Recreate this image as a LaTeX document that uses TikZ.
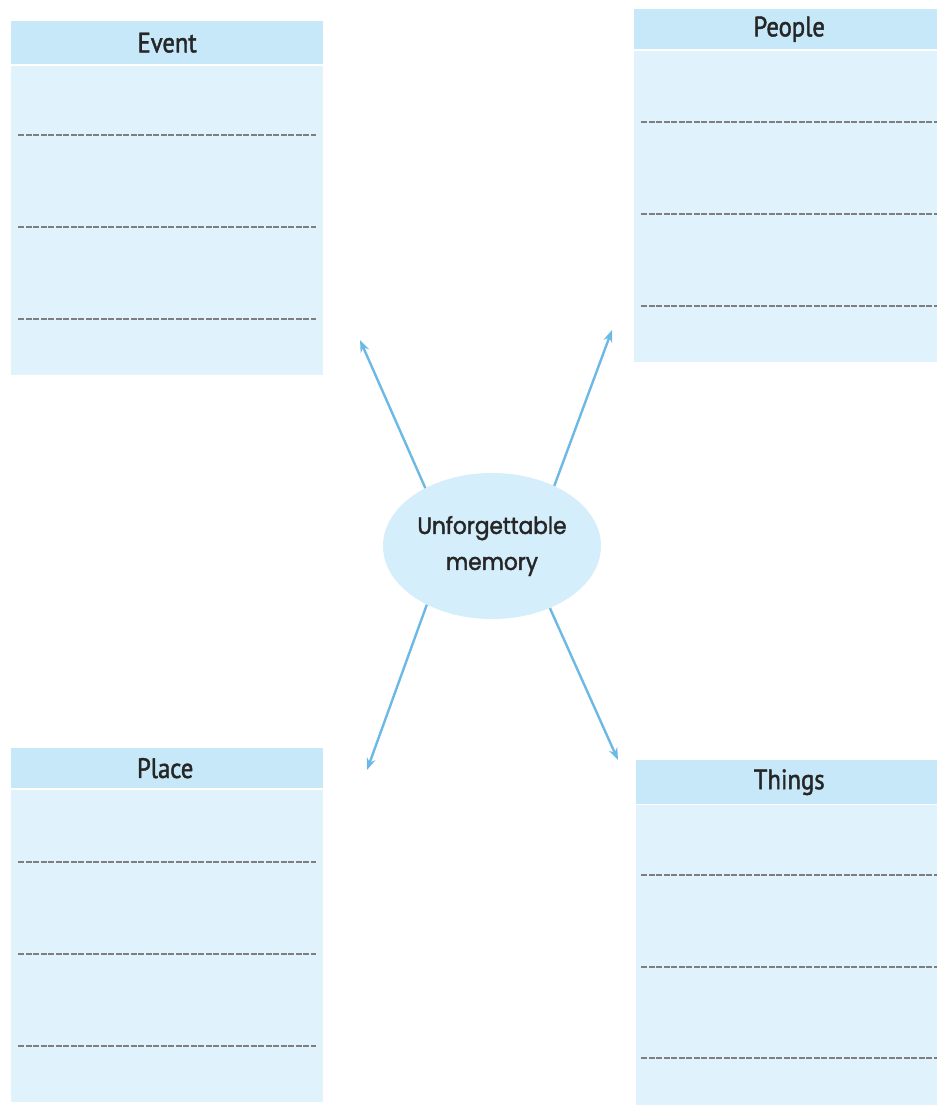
\documentclass[tikz,border=0pt]{standalone}
\usepackage{fontspec}
\newfontfamily\hdrfont{PT Sans}[FakeStretch=0.88,FakeBold=1.6]
\newfontfamily\memfont{Poppins}[FakeBold=1.8,FakeStretch=0.92]
\usetikzlibrary{shapes.geometric,arrows.meta}
\definecolor{hdrblue}{HTML}{C6E8F8}
\definecolor{bodyblue}{HTML}{E0F3FD}
\definecolor{ellblue}{HTML}{D4EEFB}
\definecolor{arrblue}{HTML}{6DB9E6}
\definecolor{dashgray}{HTML}{7E7E7E}
\definecolor{txt}{HTML}{262626}
\begin{document}
\begin{tikzpicture}[x=1pt,y=-1pt,
  hdr/.style={fill=hdrblue,draw=none,inner sep=0pt,text=txt,font=\hdrfont\fontsize{28}{30}\selectfont},
  rule/.style={draw=dashgray,line width=1.5pt,dash pattern=on 6pt off 1.5pt},
  arr/.style={draw=arrblue,line width=2.4pt,-{Stealth[length=12pt,width=9pt]}}]
\useasboundingbox (0,0) rectangle (937,1106);
\fill[white] (0,0) rectangle (937,1106);
% Event
\fill[bodyblue] (11,66) rectangle (323,375);
\node[hdr,minimum width=312pt,minimum height=43pt,anchor=north west] (event) at (11,21) {Event};
\foreach \y in {135,227,319} \draw[rule] (18,\y) -- (316,\y);
% People
\fill[bodyblue] (634,51) rectangle (937,362);
\node[hdr,minimum width=303pt,minimum height=40pt,anchor=north west] (people) at (634,9) {\raisebox{-2pt}{People}\hspace*{-7pt}};
\foreach \y in {122,214,306} \draw[rule] (641,\y) -- (937,\y);
% Place
\fill[bodyblue] (11,790) rectangle (323,1102);
\node[hdr,minimum width=312pt,minimum height=40pt,anchor=north west] (place) at (11,748) {\hspace*{-4pt}Place};
\foreach \y in {862,954,1046} \draw[rule] (18,\y) -- (316,\y);
% Things
\fill[bodyblue] (636,805) rectangle (937,1105);
\node[hdr,minimum width=301pt,minimum height=44pt,anchor=north west] (things) at (636,760) {\hspace*{5pt}Things};
\foreach \y in {875,967,1058} \draw[rule] (641,\y) -- (937,\y);
% centre
\node[ellipse,fill=ellblue,minimum width=218pt,minimum height=146pt,inner sep=0pt,align=center,text=txt,
  font=\memfont\fontsize{23.5}{38}\selectfont] (mem) at (492,546) {\raisebox{-2pt}{Unforgettable}\\memory};
\coordinate (tl) at (360,340);
\coordinate (tr) at (612,330);
\coordinate (bl) at (367,770);
\coordinate (br) at (618,760);
\draw[arr] (mem.139.5) -- (tl);
\draw[arr] (mem.44) -- (tr);
\draw[arr] (mem.222.7) -- (bl);
\draw[arr] (mem.313.6) -- (br);
\end{tikzpicture}
\end{document}
